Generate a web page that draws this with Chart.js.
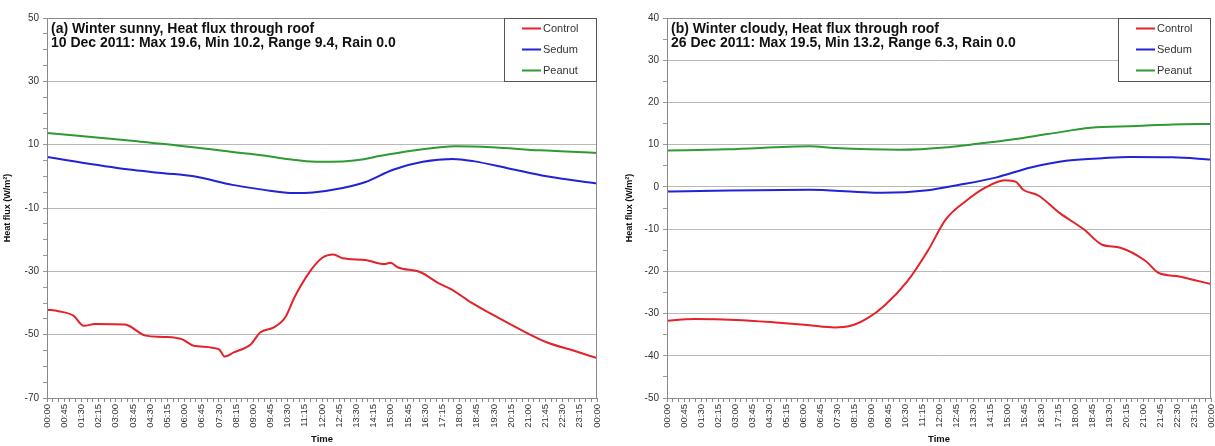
<!DOCTYPE html>
<html>
<head>
<meta charset="utf-8">
<script src="https://cdn.jsdelivr.net/npm/chart.js@4.4.0/dist/chart.umd.min.js"></script>
<style>
html, body { margin: 0; padding: 0; background: #fff; }
#wrap { position: relative; width: 1215px; height: 446px; overflow: hidden; }
.box { position: absolute; top: 0; height: 446px; }
</style>
</head>
<body>
<div id="wrap">
  <div class="box" style="left:0;width:607px"><canvas id="sunny"></canvas></div>
  <div class="box" style="left:607px;width:608px"><canvas id="cloudy"></canvas></div>
</div>
<script>
// Series names and colours
const seriesNames = ['Control', 'Sedum', 'Peanut'];
const seriesColors = ['#e3222a', '#2222d6', '#2e9a34'];

// (a) Winter sunny, 10 Dec 2011  (time in hours, flux in W/m2)
const sunnyControlTime = [0, 0.5, 1.15, 1.6, 2.1, 3.4, 4.3, 5.1, 5.9, 6.4, 7.5, 7.75, 8.15, 8.9, 9.3, 9.9, 10.4, 10.8, 11.5, 12.0, 12.5, 12.9, 13.9, 14.7, 15.0, 15.3, 16.3, 17.1, 17.7, 18.5, 19.4, 20.6, 21.8, 23.0, 24];
const sunnyControl = [-42.1, -42.6, -44.0, -47.2, -46.6, -46.8, -50.3, -50.7, -51.5, -53.5, -54.6, -56.9, -55.6, -53.0, -49.3, -47.7, -44.5, -38.2, -29.8, -25.8, -24.7, -25.9, -26.4, -27.7, -27.3, -28.7, -30.3, -33.8, -35.9, -39.8, -43.5, -48.2, -52.4, -55.1, -57.4];
const sunnySedumTime = [0, 3.5, 5.1, 6.4, 8.1, 9.4, 10.8, 11.6, 12.9, 13.9, 15.1, 16.4, 17.7, 18.6, 20.2, 21.8, 24];
const sunnySedum = [6.1, 2.2, 1.0, 0.0, -2.7, -4.2, -5.3, -5.1, -3.7, -1.8, 2.1, 4.6, 5.5, 4.8, 2.4, 0.0, -2.3];
const sunnyPeanutTime = [0, 3.7, 5.0, 8.1, 9.1, 11.3, 12.4, 13.4, 14.8, 16.25, 17.8, 19.4, 21.5, 24];
const sunnyPeanut = [13.7, 11.2, 10.3, 7.7, 6.9, 4.8, 4.6, 5.0, 6.8, 8.4, 9.5, 9.2, 8.2, 7.4];

// (b) Winter cloudy, 26 Dec 2011
const cloudyControlTime = [0, 1.2, 3.05, 4.8, 6.2, 7.4, 8.1, 8.85, 9.6, 10.6, 11.5, 12.3, 13.2, 14.0, 14.9, 15.4, 15.7, 16.4, 17.3, 18.4, 19.2, 20.0, 21.1, 21.7, 22.6, 23.2, 24];
const cloudyControl = [-31.7, -31.3, -31.5, -32.1, -32.7, -33.3, -32.9, -31.1, -28.1, -22.4, -15.2, -7.7, -3.3, -0.3, 1.6, 1.2, -0.6, -2.1, -6.1, -10.1, -13.7, -14.4, -17.5, -20.4, -21.2, -22.0, -23.0];
const cloudySedumTime = [0, 6.3, 8.4, 9.5, 11.5, 12.8, 14.5, 16.05, 17.6, 19.2, 20.4, 22.3, 24];
const cloudySedum = [-1.1, -0.7, -1.2, -1.4, -0.8, 0.4, 2.2, 4.6, 6.2, 6.8, 7.1, 7.0, 6.5];
const cloudyPeanutTime = [0, 2.7, 6.3, 7.4, 10.25, 12.4, 13.7, 15.3, 16.8, 18.7, 20.7, 22.3, 24];
const cloudyPeanut = [8.6, 8.9, 9.6, 9.2, 8.8, 9.4, 10.2, 11.3, 12.5, 14.0, 14.4, 14.8, 14.9];

const sunnyTitle = ['(a) Winter sunny, Heat flux through roof', '10 Dec 2011: Max 19.6, Min 10.2, Range 9.4, Rain 0.0'];
const cloudyTitle = ['(b) Winter cloudy, Heat flux through roof', '26 Dec 2011: Max 19.5, Min 13.2, Range 6.3, Rain 0.0'];

const FONT = '"Liberation Sans", Arial, sans-serif';

function pad2(n) { return (n < 10 ? '0' : '') + n; }

// Time label every 45 min, minor tick every 15 min
function timeLabel(v) {
    const m = Math.round(v * 60);
    if (m % 45 !== 0) return '';
    return pad2(Math.floor(m / 60) % 24) + ':' + pad2(m % 60);
}

function toPoints(times, values) {
    return times.map((t, i) => ({ x: t, y: values[i] }));
}

// Plot frame, title text and boxed legend drawn inside the plot area
const decorPlugin = {
    id: 'decor',
    afterDraw(chart, args, opts) {
        const ctx = chart.ctx;
        const a = chart.chartArea;
        ctx.save();
        ctx.strokeStyle = '#8a8a8a';
        ctx.lineWidth = 1;
        ctx.strokeRect(Math.round(a.left) + 0.5, Math.round(a.top) + 0.5, Math.round(a.right - a.left) - 1, Math.round(a.bottom - a.top));

        ctx.fillStyle = '#111';
        ctx.font = 'bold 14px ' + FONT;
        ctx.textBaseline = 'middle';
        ctx.textAlign = 'left';
        opts.lines.forEach((t, i) => ctx.fillText(t, a.left + 4, a.top + 11 + i * 14.5));

        const w = 92, h = 63;
        const x = Math.round(a.right) - w - 1, y = Math.round(a.top);
        ctx.fillStyle = '#fff';
        ctx.fillRect(x, y, w, h);
        ctx.strokeStyle = '#555';
        ctx.strokeRect(x + 0.5, y + 0.5, w, h);
        ctx.font = '11px ' + FONT;
        chart.data.datasets.forEach((ds, i) => {
            const ly = y + 10.5 + i * 21;
            ctx.strokeStyle = ds.borderColor;
            ctx.lineWidth = 2;
            ctx.beginPath();
            ctx.moveTo(x + 18, ly);
            ctx.lineTo(x + 37, ly);
            ctx.stroke();
            ctx.fillStyle = '#333';
            ctx.fillText(ds.label, x + 39, ly);
        });
        ctx.restore();
    }
};

function makeChart(id, series, title, yMin, yMax, labelStep, padLeft, yWidth, padRight) {
    const datasets = series.map((s, i) => ({
        label: seriesNames[i],
        data: toPoints(s[0], s[1]),
        borderColor: seriesColors[i],
        backgroundColor: seriesColors[i],
        borderWidth: 2,
        pointRadius: 0,
        cubicInterpolationMode: 'monotone',
        fill: false
    }));
    new Chart(document.getElementById(id), {
        type: 'line',
        data: { datasets },
        options: {
            responsive: true,
            maintainAspectRatio: false,
            animation: false,
            layout: { padding: { top: 18, right: padRight, left: padLeft, bottom: 0 } },
            plugins: {
                legend: { display: false },
                tooltip: { enabled: false },
                decor: { lines: title }
            },
            scales: {
                x: {
                    type: 'linear',
                    min: 0,
                    max: 24,
                    grid: { drawOnChartArea: false, tickLength: 4, tickColor: '#888' },
                    border: { color: '#888' },
                    ticks: {
                        stepSize: 0.25,
                        autoSkip: false,
                        maxRotation: 90,
                        minRotation: 90,
                        padding: 2,
                        color: '#333',
                        font: { family: FONT, size: 9.5 },
                        callback: v => timeLabel(v)
                    },
                    title: { display: true, text: 'Time', color: '#111', font: { family: FONT, size: 9.5, weight: 'bold' }, padding: { top: 0, bottom: 1 } },
                    afterFit: s => { s.height = 48; s.paddingRight = 2; s.paddingLeft = 2; }
                },
                y: {
                    min: yMin,
                    max: yMax,
                    grid: {
                        tickLength: 4,
                        tickColor: '#999',
                        color: c => (c.tick && (yMax - c.tick.value) % labelStep === 0 ? '#b8b8b8' : 'rgba(0,0,0,0)')
                    },
                    border: { color: '#888' },
                    ticks: {
                        stepSize: 5,
                        autoSkip: false,
                        padding: 4,
                        color: '#333',
                        font: { family: FONT, size: 10 },
                        callback: v => ((yMax - v) % labelStep === 0 ? String(v) : '')
                    },
                    title: { display: true, text: 'Heat flux (W/m²)', color: '#111', font: { family: FONT, size: 9, weight: 'bold' }, padding: { top: 2, bottom: 4 } },
                    afterFit: s => { s.width = yWidth; }
                }
            }
        },
        plugins: [decorPlugin]
    });
}

document.addEventListener('DOMContentLoaded', () => {
    makeChart('sunny', [
        [sunnyControlTime, sunnyControl],
        [sunnySedumTime, sunnySedum],
        [sunnyPeanutTime, sunnyPeanut]
    ], sunnyTitle, -70, 50, 20, 0, 47, 10);
    makeChart('cloudy', [
        [cloudyControlTime, cloudyControl],
        [cloudySedumTime, cloudySedum],
        [cloudyPeanutTime, cloudyPeanut]
    ], cloudyTitle, -50, 40, 10, 15, 45, 4);
});
</script>
</body>
</html>
